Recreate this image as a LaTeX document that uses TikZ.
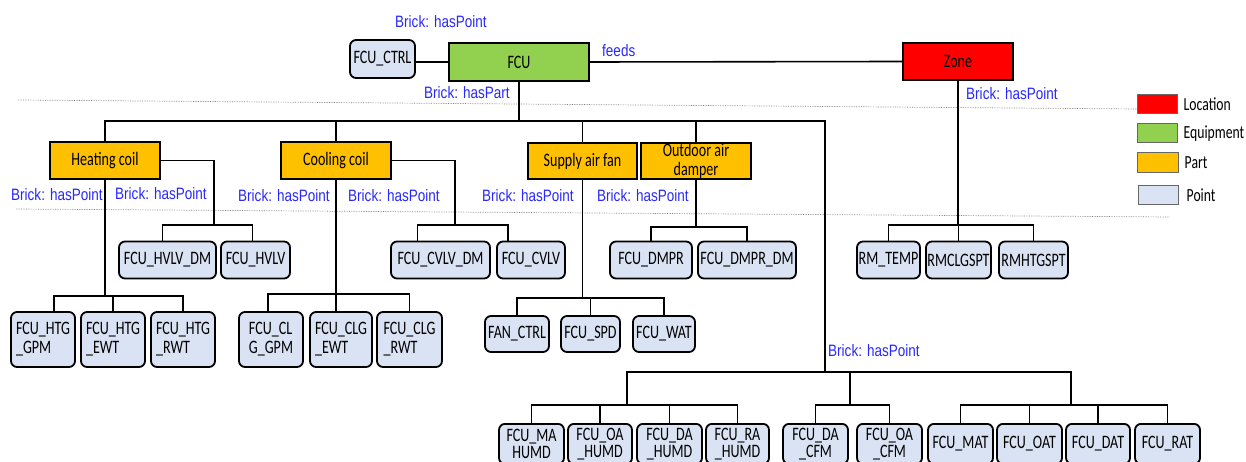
\documentclass[tikz,border=0pt]{standalone}
\usepackage{fontspec}
\setmainfont[FakeStretch=0.74]{Carlito}
\newfontfamily\relfont[FakeStretch=0.82]{Liberation Sans}
\usetikzlibrary{positioning}
\definecolor{locred}{RGB}{255,0,0}
\definecolor{equipgreen}{RGB}{146,208,80}
\definecolor{partorange}{RGB}{255,192,0}
\definecolor{pointblue}{RGB}{218,227,243}
\definecolor{relblue}{RGB}{40,40,250}
\begin{document}
\begin{tikzpicture}[x=1pt,y=-1pt,
    box/.style={draw,line width=1.8pt,inner sep=0pt,minimum height=37,font=\fontsize{19}{19}\selectfont},
    pointbox/.style={box,fill=pointblue,rounded corners=6pt},
    partbox/.style={box,fill=partorange},
    link/.style={line width=1.6pt},
    sepline/.style={gray,line width=0.7pt,densely dotted},
    rel/.style={text=relblue,font=\relfont\fontsize{16.5}{18}\selectfont,inner sep=0pt,anchor=west},
    legbox/.style={draw=black!60,line width=1pt,minimum width=40,minimum height=19,inner sep=0pt},
    legtext/.style={font=\fontsize{18.5}{19}\selectfont,inner sep=0pt}]
    \useasboundingbox (0,0) rectangle (1246,462);
    \draw[sepline] (18,100) -- (1137,109);
    \draw[sepline] (16,209) -- (1170,217);
    \node[pointbox,minimum width=65,minimum height=38] (ctrl) at (382.5,59) {FCU\_CTRL};
    \node[box,fill=equipgreen,minimum width=140,minimum height=38] (fcu) at (519,62) {FCU};
    \node[box,fill=locred,minimum width=110] (zone) at (958,61.5) {Zone};
    \node[partbox,minimum width=110] (hc) at (105,160.5) {Heating coil};
    \node[partbox,minimum width=110] (cc) at (336,160.5) {Cooling coil};
    \node[partbox,minimum width=109,minimum height=36] (saf) at (582.5,161) {Supply air fan};
    \node[partbox,minimum width=110,minimum height=36,align=center,font=\fontsize{19}{19}\selectfont] (oad) at (696,161) {Outdoor air\\damper};
    \foreach \n/\x/\w/\t in {hvlvdm/167.5/97/FCU\_HVLV\_DM, hvlv/255.5/69/FCU\_HVLV,
        cvlvdm/440.5/99/FCU\_CVLV\_DM, cvlv/531/68/FCU\_CVLV,
        dmpr/651/82/FCU\_DMPR, dmprdm/747/98/FCU\_DMPR\_DM,
        rmtemp/888.5/63/RM\_TEMP, rmclg/958.5/65/RMCLGSPT, rmhtg/1033.5/69/RMHTGSPT}
        \node[pointbox,minimum width=\w] (\n) at (\x,260) {\t};
    \foreach \n/\x/\w/\t in {htggpm/43/64/{FCU\_HTG\\\_GPM}, htgewt/113/64/{FCU\_HTG\\\_EWT},
        htgrwt/183/64/{FCU\_HTG\\\_RWT}, clggpm/271/64/{FCU\_CL\\G\_GPM},
        clgewt/341/62/{FCU\_CLG\\\_EWT}, clgrwt/409.5/65/{FCU\_CLG\\\_RWT}}
        \node[pointbox,minimum width=\w,minimum height=55,align=left] (\n) at (\x,339.5) {\t};
    \foreach \n/\x/\w/\t in {fanctrl/517/64/FAN\_CTRL, spd/590.5/59/FCU\_SPD, wat/664/62/FCU\_WAT}
        \node[pointbox,minimum width=\w,minimum height=36] (\n) at (\x,334) {\t};
    \foreach \n/\x/\w/\t in {mahumd/531.5/65/{FCU\_MA\\HUMD}, oahumd/600/64/{FCU\_OA\\\_HUMD},
        dahumd/669.5/65/{FCU\_DA\\\_HUMD}, rahumd/737.5/63/{FCU\_RA\\\_HUMD},
        dacfm/815.5/65/{FCU\_DA\\\_CFM}, oacfm/889.5/65/{FCU\_OA\\\_CFM},
        mat/960.5/65/FCU\_MAT, oat/1029.5/65/FCU\_OAT, dat/1098/64/FCU\_DAT, rat/1167.5/65/FCU\_RAT}
        \node[pointbox,minimum width=\w,minimum height=40,anchor=north,align=center,
            font=\fontsize{19}{17}\selectfont] (\n) at (\x,423) {\t};
    \draw[link] (fcu.west) -- (fcu.west -| ctrl.east);
    \draw[link] (fcu.east) -- (zone.west);
    \coordinate (partbus) at (fcu.south |- 0,121);
    \coordinate (ptbus) at (825,372);
    \draw[link] (fcu.south) -- (partbus);
    \foreach \p in {hc,cc,saf,oad}
        \draw[link] (partbus) -| (\p.north);
    \draw[link] (partbus) -| (ptbus);
    \coordinate (hvbus) at (214,225);
    \coordinate (hsbus) at (hc.south |- 0,296);
    \draw[link] (hc.east) -| (hvbus);
    \foreach \c/\s in {hvlvdm/-5pt,hvlv/-3pt}
        \draw[link] (hvbus) -| ([xshift=\s]\c.north);
    \draw[link] (hc.south) -- (hsbus);
    \foreach \c/\s in {htggpm/11pt,htgewt/0pt,htgrwt/0pt}
        \draw[link] (hsbus) -| ([xshift=\s]\c.north);
    \coordinate (cvbus) at (455,225);
    \coordinate (csbus) at (cc.south |- 0,294);
    \draw[link] (cc.east) -| (cvbus);
    \foreach \c in {cvlvdm,cvlv}
        \draw[link] (cvbus) -| ([xshift=-23pt]\c.north);
    \draw[link] (cc.south) -- (csbus);
    \foreach \c/\s in {clggpm/-3pt,clgewt/-5pt,clgrwt/0pt}
        \draw[link] (csbus) -| ([xshift=\s]\c.north);
    \coordinate (fsbus) at (saf.south |- 0,298);
    \draw[link] (saf.south) -- (fsbus);
    \foreach \c in {fanctrl,spd,wat}
        \draw[link] (fsbus) -| (\c.north);
    \coordinate (dbus) at (oad.south |- 0,227);
    \draw[link] (oad.south) -- (dbus);
    \foreach \c in {dmpr,dmprdm}
        \draw[link] (dbus) -| (\c.north);
    \coordinate (zbus) at (zone.south |- 0,225);
    \draw[link] (zone.south) -- (zbus);
    \foreach \c in {rmtemp,rmclg,rmhtg}
        \draw[link] (zbus) -| (\c.north);
    \coordinate (humbus) at (627,405);
    \coordinate (cfmbus) at (850,405);
    \coordinate (tmpbus) at (1071,405);
    \foreach \b in {humbus,cfmbus,tmpbus}
        \draw[link] (ptbus) -| (\b);
    \foreach \c in {mahumd,oahumd,dahumd,rahumd}
        \draw[link] (humbus) -| (\c.north);
    \foreach \c in {dacfm,oacfm}
        \draw[link] (cfmbus) -| (\c.north);
    \foreach \c in {mat,oat,dat,rat}
        \draw[link] (tmpbus) -| (\c.north);
    \foreach \n/\x/\y/\t in {lctrl/395/22/{Brick: hasPoint}, lfeeds/602/51/feeds,
        lpart/424/93/{Brick: hasPart}, lzone/966/94/{Brick: hasPoint},
        lhc1/11/195/{Brick: hasPoint}, lhc2/115/194/{Brick: hasPoint},
        lcc1/238/196/{Brick: hasPoint}, lcc2/348/196/{Brick: hasPoint},
        lsaf/482/196/{Brick: hasPoint}, load/597/196/{Brick: hasPoint},
        lpt/828/351/{Brick: hasPoint}}
        \node[rel] (\n) at (\x,\y) {\t};
    \node[legbox,fill=locred] (lgloc) at (1157,104.5) {};
    \node[legbox,fill=equipgreen] (lgequip) at (1157,133.5) {};
    \node[legbox,fill=partorange,minimum width=41,minimum height=20] (lgpart) at (1157.5,163) {};
    \node[legbox,fill=pointblue] (lgpoint) at (1158,195.5) {};
    \node[legtext,right=6pt of lgloc] (tloc) {Location};
    \node[legtext,right=6pt of lgequip] (tequip) {Equipment};
    \node[legtext,right=6pt of lgpart] (tpart) {Part};
    \node[legtext,right=8pt of lgpoint] (tpoint) {Point};
\end{tikzpicture}
\end{document}
